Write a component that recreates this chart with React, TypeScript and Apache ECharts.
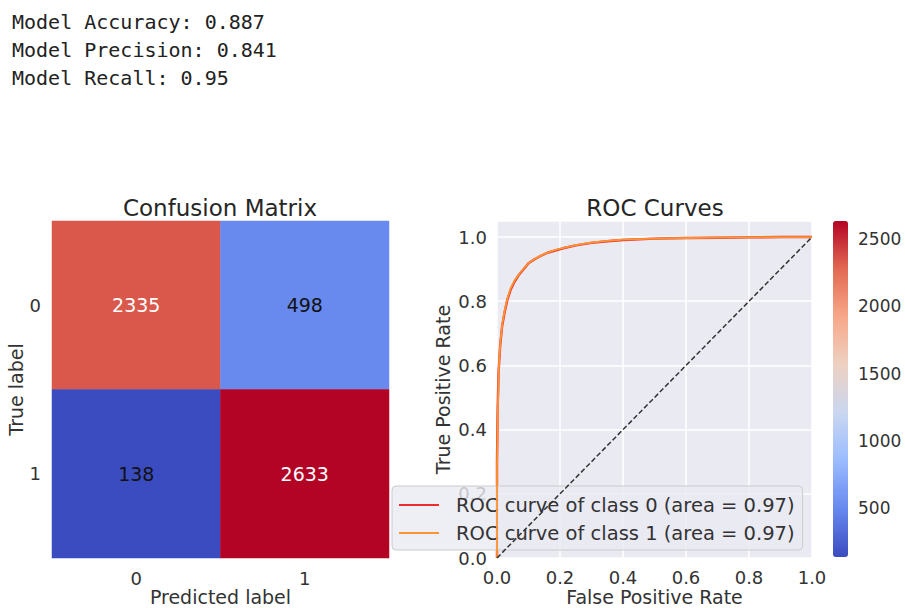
import React, { useEffect, useRef } from "react";
import * as echarts from "echarts";

// ---------- data ----------
const metricLabels = ["Model Accuracy", "Model Precision", "Model Recall"];
const metricValues = ["0.887", "0.841", "0.95"];

const cmClasses = ["0", "1"];
// rows = true label, columns = predicted label
const cmRow0 = [2335, 498];
const cmRow1 = [138, 2633];

const rocClasses = ["0", "1"];
const rocAuc = ["0.97", "0.97"];
const fpr0 = [0, 0, 0.002, 0.005, 0.01, 0.016, 0.024, 0.033, 0.043, 0.055, 0.068, 0.083, 0.1, 0.118, 0.138, 0.16, 0.185, 0.21, 0.25, 0.3, 0.35, 0.4, 0.5, 0.6, 0.7, 0.8, 0.9, 1];
const tpr0 = [0, 0.3, 0.46, 0.58, 0.66, 0.72, 0.765, 0.805, 0.835, 0.86, 0.88, 0.898, 0.918, 0.93, 0.941, 0.951, 0.958, 0.965, 0.974, 0.982, 0.987, 0.991, 0.995, 0.997, 0.998, 0.999, 1.0, 1.0];
const fpr1 = [0, 0, 0.003, 0.006, 0.011, 0.017, 0.025, 0.034, 0.044, 0.056, 0.07, 0.085, 0.102, 0.12, 0.14, 0.162, 0.186, 0.212, 0.25, 0.3, 0.35, 0.4, 0.5, 0.6, 0.7, 0.8, 0.9, 1];
const tpr1 = [0, 0.28, 0.47, 0.6, 0.675, 0.73, 0.775, 0.812, 0.842, 0.865, 0.884, 0.902, 0.92, 0.932, 0.943, 0.952, 0.96, 0.966, 0.975, 0.983, 0.988, 0.992, 0.995, 0.997, 0.998, 0.999, 1, 1];
const diagX = [0, 1];
const diagY = [0, 1];

const rocTicks = [0, 0.2, 0.4, 0.6, 0.8, 1.0];
const colorbarTicks = [500, 1000, 1500, 2000, 2500];
const colorMin = 138;
const colorMax = 2633;

const coolwarm = ["#3b4cc0", "#6788ee", "#9abbff", "#c9d7f0", "#edd1c2", "#f7a889", "#e26952", "#b40426"];
const rocColors = ["#ef2b2b", "#fb9433"];

// ---------- helpers ----------
const FONT = "DejaVu Sans";
const TXT = "#333333";
const cmRows = [cmRow0, cmRow1];
const mid = (colorMin + colorMax) / 2;
const cells: any[] = [];
cmRows.forEach((row, r) =>
  row.forEach((v, c) =>
    cells.push({ value: [c, r, v], label: { color: v > mid ? "#ffffff" : "#111111" } })
  )
);
const zip = (xs: number[], ys: number[]) => xs.map((x, i) => [x, ys[i]]);
const rocNames = rocClasses.map((c, i) => `ROC curve of class ${c} (area = ${rocAuc[i]})`);
const rocData = [zip(fpr0, tpr0), zip(fpr1, tpr1)];
const rocWidths = [2.4, 1.8];

const option: any = {
  animation: false,
  backgroundColor: "#ffffff",
  textStyle: { fontFamily: FONT },
  grid: [
    { left: 52, top: 221, width: 337, height: 337, outerBoundsMode: "none" },
    { left: 497, top: 221, width: 315, height: 337, show: true, backgroundColor: "#EAEAF2", borderWidth: 0, outerBoundsMode: "none" },
    { left: 833, top: 221, width: 15, height: 336, outerBoundsMode: "none" },
  ],
  xAxis: [
    {
      type: "category", gridIndex: 0, data: cmClasses,
      axisLine: { show: false }, axisTick: { show: false }, splitLine: { show: false },
      axisLabel: { fontSize: 18, color: TXT, margin: 11, fontFamily: FONT },
      name: "Predicted label", nameLocation: "middle", nameGap: 29, nameMoveOverlap: false,
      nameTextStyle: { fontSize: 19, color: TXT, fontFamily: FONT },
    },
    {
      type: "value", gridIndex: 1, min: 0, max: 1, interval: 0.2,
      axisLine: { show: false }, axisTick: { show: false },
      splitLine: { show: true, lineStyle: { color: "#ffffff", width: 1.5 } },
      axisLabel: { fontSize: 18, color: TXT, margin: 10, fontFamily: FONT, customValues: rocTicks, formatter: (v: number) => v.toFixed(1) },
      name: "False Positive Rate", nameLocation: "middle", nameGap: 29, nameMoveOverlap: false,
      nameTextStyle: { fontSize: 19, color: TXT, fontFamily: FONT },
    },
    { type: "value", gridIndex: 2, min: 0, max: 1, show: false },
  ],
  yAxis: [
    {
      type: "category", gridIndex: 0, data: cmClasses, inverse: true,
      axisLine: { show: false }, axisTick: { show: false }, splitLine: { show: false },
      axisLabel: { fontSize: 18, color: TXT, margin: 11, fontFamily: FONT },
      name: "True label", nameLocation: "middle", nameGap: 27, nameMoveOverlap: false,
      nameTextStyle: { fontSize: 19, color: TXT, fontFamily: FONT },
    },
    {
      type: "value", gridIndex: 1, min: 0, max: 1.05, interval: 0.2,
      axisLine: { show: false }, axisTick: { show: false },
      splitLine: { show: true, lineStyle: { color: "#ffffff", width: 1.5 } },
      axisLabel: { fontSize: 18, color: TXT, margin: 10, fontFamily: FONT, customValues: rocTicks, formatter: (v: number) => v.toFixed(1) },
      name: "True Positive Rate", nameLocation: "middle", nameGap: 45, nameMoveOverlap: false,
      nameTextStyle: { fontSize: 19, color: TXT, fontFamily: FONT },
    },
    {
      type: "value", gridIndex: 2, min: colorMin, max: colorMax, position: "right",
      axisLine: { show: false }, splitLine: { show: false },
      axisTick: { show: true, length: 4, lineStyle: { color: TXT, width: 1 }, customValues: colorbarTicks },
      axisLabel: { fontSize: 17, color: TXT, margin: 10, fontFamily: FONT, customValues: colorbarTicks, formatter: (v: number) => String(v) },
    },
  ],
  visualMap: {
    type: "continuous", seriesIndex: 0, min: colorMin, max: colorMax,
    inRange: { color: coolwarm }, show: true, calculable: false, hoverLink: false,
    orient: "vertical", left: 833, top: 221, itemWidth: 15, itemHeight: 336, padding: 0,
  },
  legend: {
    data: rocNames, orient: "vertical", left: 392, top: 486,
    padding: [9, 8, 7, 7], itemGap: 8, itemWidth: 40, itemHeight: 2, icon: "rect",
    backgroundColor: "rgba(234,234,242,0.8)", borderColor: "#cccccc", borderWidth: 1, borderRadius: 4,
    selectedMode: false,
    textStyle: { fontSize: 19.5, color: TXT, fontFamily: FONT, lineHeight: 20, padding: [0, 0, 0, 12] },
  },
  graphic: [
    ...metricLabels.map((l, i) => ({
      type: "text", x: 12, y: 22 + i * 28,
      style: { text: `${l}: ${metricValues[i]}`, fontFamily: "DejaVu Sans Mono", fontSize: 20, fill: "#222222", align: "left", verticalAlign: "middle" },
    })),
    { type: "text", x: 220, y: 208, style: { text: "Confusion Matrix", fontFamily: FONT, fontSize: 23, fill: "#262626", align: "center", verticalAlign: "middle" } },
    { type: "text", x: 655, y: 208, style: { text: "ROC Curves", fontFamily: FONT, fontSize: 23, fill: "#262626", align: "center", verticalAlign: "middle" } },
  ],
  series: [
    {
      type: "heatmap", xAxisIndex: 0, yAxisIndex: 0, data: cells,
      label: { show: true, fontSize: 19, fontFamily: FONT },
      itemStyle: { borderWidth: 0 }, emphasis: { disabled: true },
    },
    ...rocNames.map((n, i) => ({
      type: "line", name: n, xAxisIndex: 1, yAxisIndex: 1, data: rocData[i],
      showSymbol: false, symbol: "none", smooth: false,
      lineStyle: { width: rocWidths[i], color: rocColors[i] }, itemStyle: { color: rocColors[i] }, z: 3 + i,
    })),
    {
      type: "line", xAxisIndex: 1, yAxisIndex: 1, data: zip(diagX, diagY),
      showSymbol: false, symbol: "none", silent: true,
      lineStyle: { width: 1.5, color: "#333333", type: [5, 2.5] }, z: 6,
    },
  ],
};

export default function App() {
  const ref = useRef<HTMLDivElement>(null);
  useEffect(() => {
    const chart = echarts.init(ref.current!, null, { renderer: "svg" });
    chart.setOption(option);
    return () => chart.dispose();
  }, []);
  return (
    <div
      ref={ref}
      style={{ position: "fixed", left: 0, top: 0, width: 905, height: 608, background: "#ffffff" }}
    />
  );
}
